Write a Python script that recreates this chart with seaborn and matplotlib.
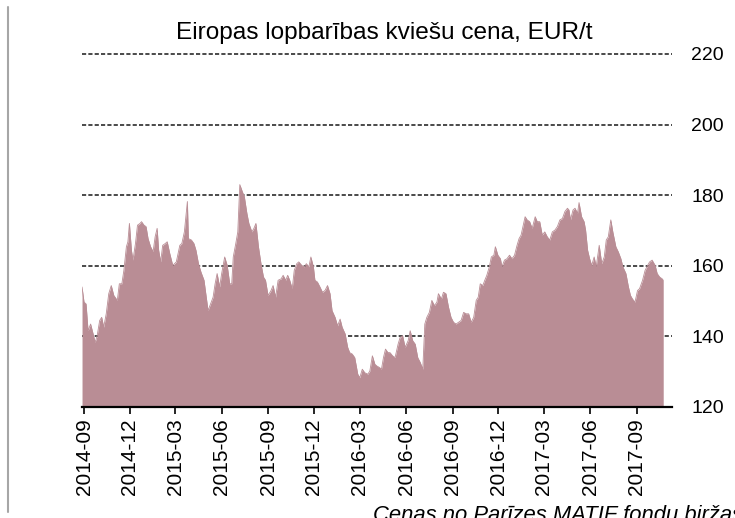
import matplotlib
matplotlib.use('Agg')
import matplotlib.pyplot as plt
import matplotlib.dates as mdates
from matplotlib.lines import Line2D
import seaborn as sns
import pandas as pd

# price series (EUR/t)
dates = [
    '2014-08-28', '2014-09-01', '2014-09-05', '2014-09-09', '2014-09-14', '2014-09-19', '2014-09-23', '2014-09-27',
    '2014-10-02', '2014-10-06', '2014-10-10', '2014-10-15', '2014-10-20', '2014-10-25', '2014-10-30', '2014-11-06',
    '2014-11-10', '2014-11-15', '2014-11-19', '2014-11-24', '2014-11-27', '2014-11-30', '2014-12-04', '2014-12-07',
    '2014-12-12', '2014-12-16', '2014-12-21', '2014-12-24', '2014-12-29', '2015-01-02', '2015-01-06', '2015-01-11',
    '2015-01-16', '2015-01-20', '2015-01-24', '2015-01-27', '2015-01-31', '2015-02-04', '2015-02-09', '2015-02-13',
    '2015-02-18', '2015-02-24', '2015-03-03', '2015-03-10', '2015-03-14', '2015-03-19', '2015-03-25', '2015-03-27',
    '2015-04-02', '2015-04-07', '2015-04-11', '2015-04-16', '2015-04-21', '2015-04-27', '2015-05-01', '2015-05-05',
    '2015-05-10', '2015-05-15', '2015-05-19', '2015-05-23', '2015-05-28', '2015-06-01', '2015-06-07', '2015-06-12',
    '2015-06-17', '2015-06-21', '2015-06-24', '2015-06-29', '2015-07-03', '2015-07-07', '2015-07-12', '2015-07-16',
    '2015-07-21', '2015-07-25', '2015-07-31', '2015-08-04', '2015-08-08', '2015-08-13', '2015-08-18', '2015-08-23',
    '2015-08-27', '2015-09-01', '2015-09-07', '2015-09-11', '2015-09-16', '2015-09-21', '2015-09-27', '2015-10-01',
    '2015-10-06', '2015-10-10', '2015-10-14', '2015-10-19', '2015-10-23', '2015-10-28', '2015-11-01', '2015-11-07',
    '2015-11-12', '2015-11-16', '2015-11-21', '2015-11-25', '2015-11-30', '2015-12-03', '2015-12-08', '2015-12-13',
    '2015-12-18', '2015-12-23', '2015-12-28', '2016-01-02', '2016-01-06', '2016-01-12', '2016-01-17', '2016-01-22',
    '2016-01-26', '2016-02-01', '2016-02-06', '2016-02-10', '2016-02-15', '2016-02-20', '2016-02-26', '2016-03-01',
    '2016-03-06', '2016-03-11', '2016-03-17', '2016-03-21', '2016-03-26', '2016-03-31', '2016-04-04', '2016-04-09',
    '2016-04-13', '2016-04-17', '2016-04-21', '2016-04-26', '2016-04-30', '2016-05-05', '2016-05-10', '2016-05-16',
    '2016-05-20', '2016-05-25', '2016-05-30', '2016-06-05', '2016-06-09', '2016-06-14', '2016-06-19', '2016-06-24',
    '2016-06-29', '2016-07-04', '2016-07-08', '2016-07-12', '2016-07-17', '2016-07-22', '2016-07-27', '2016-08-01',
    '2016-08-04', '2016-08-10', '2016-08-14', '2016-08-19', '2016-08-24', '2016-08-29', '2016-09-03', '2016-09-08',
    '2016-09-13', '2016-09-18', '2016-09-23', '2016-09-28', '2016-10-03', '2016-10-08', '2016-10-13', '2016-10-18',
    '2016-10-22', '2016-10-26', '2016-10-31', '2016-11-04', '2016-11-08', '2016-11-13', '2016-11-17', '2016-11-22',
    '2016-11-25', '2016-11-30', '2016-12-05', '2016-12-08', '2016-12-13', '2016-12-18', '2016-12-23', '2016-12-28',
    '2017-01-02', '2017-01-07', '2017-01-11', '2017-01-15', '2017-01-18', '2017-01-23', '2017-01-27', '2017-02-01',
    '2017-02-06', '2017-02-12', '2017-02-16', '2017-02-21', '2017-02-26', '2017-03-03', '2017-03-08', '2017-03-13',
    '2017-03-18', '2017-03-23', '2017-03-28', '2017-04-02', '2017-04-07', '2017-04-12', '2017-04-17', '2017-04-20',
    '2017-04-23', '2017-04-28', '2017-05-02', '2017-05-07', '2017-05-10', '2017-05-15', '2017-05-20', '2017-05-23',
    '2017-05-27', '2017-05-31', '2017-06-04', '2017-06-09', '2017-06-13', '2017-06-19', '2017-06-24', '2017-06-29',
    '2017-07-03', '2017-07-07', '2017-07-12', '2017-07-16', '2017-07-22', '2017-07-27', '2017-08-01', '2017-08-05',
    '2017-08-11', '2017-08-16', '2017-08-20', '2017-08-24', '2017-08-29', '2017-09-03', '2017-09-07', '2017-09-13',
    '2017-09-18', '2017-09-23', '2017-09-27', '2017-10-02', '2017-10-08', '2017-10-12', '2017-10-17', '2017-10-22',
    '2017-10-24',
]
prices = [
    154.0, 149.7, 149.2, 141.6, 143.5, 140.7, 138.3, 140.2,
    144.5, 145.4, 142.6, 146.4, 152.1, 154.4, 151.6, 150.2,
    154.9, 154.9, 158.7, 165.4, 166.8, 172.0, 164.4, 161.6,
    166.3, 171.5, 172.0, 172.5, 171.5, 171.1, 167.7, 165.4,
    164.0, 168.2, 170.6, 164.4, 161.1, 165.8, 166.3, 166.8,
    163.5, 160.1, 161.1, 165.8, 166.3, 169.6, 178.2, 167.7,
    167.3, 166.3, 164.4, 160.6, 158.2, 155.9, 151.6, 147.3,
    149.2, 151.1, 154.9, 157.8, 154.0, 157.8, 162.5, 160.1,
    154.9, 154.9, 162.5, 166.3, 169.6, 183.0, 181.0, 179.6,
    174.9, 172.0, 169.6, 170.6, 172.0, 165.4, 160.6, 156.8,
    155.9, 151.6, 153.0, 154.4, 151.1, 155.9, 156.3, 157.3,
    155.9, 157.3, 155.9, 153.5, 158.7, 160.6, 161.1, 160.1,
    159.7, 160.6, 159.7, 162.5, 159.7, 155.9, 155.4, 154.0,
    152.5, 153.0, 154.4, 152.1, 147.3, 145.4, 143.0, 144.9,
    142.6, 140.7, 136.9, 135.4, 135.0, 134.0, 129.3, 128.3,
    130.7, 129.7, 129.3, 130.2, 134.5, 132.1, 131.6, 131.2,
    130.7, 134.0, 136.4, 135.4, 135.4, 134.5, 134.0, 137.8,
    139.7, 140.2, 136.9, 138.8, 141.6, 138.8, 137.8, 134.0,
    132.6, 130.7, 143.5, 145.4, 146.8, 150.2, 148.7, 149.7,
    152.1, 150.6, 152.5, 152.1, 148.3, 145.4, 144.0, 143.5,
    144.0, 144.5, 146.8, 146.4, 146.4, 144.0, 145.4, 150.2,
    151.1, 154.9, 154.4, 155.9, 157.3, 159.7, 162.5, 163.0,
    165.4, 163.0, 162.0, 159.7, 161.6, 162.0, 163.0, 162.0,
    163.0, 165.8, 167.7, 168.7, 170.6, 173.9, 173.0, 172.5,
    170.6, 173.9, 172.5, 172.5, 168.7, 169.6, 168.2, 167.3,
    169.6, 170.1, 171.1, 173.0, 173.4, 175.4, 176.3, 175.8,
    173.0, 175.8, 176.3, 174.9, 177.9, 173.9, 172.5, 170.1,
    164.4, 162.0, 160.1, 162.5, 159.7, 165.8, 160.6, 162.5,
    167.3, 168.2, 173.0, 169.6, 165.4, 163.9, 162.0, 159.7,
    157.8, 154.0, 151.6, 150.6, 149.7, 153.0, 153.5, 155.9,
    158.7, 160.1, 161.1, 161.6, 160.1, 157.8, 156.8, 156.3,
    155.9,
]

title = 'Eiropas lopbarības kviešu cena, EUR/t'
source = 'Cenas no Parīzes MATIF fondu biržas'
y_ticks = [120, 140, 160, 180, 200, 220]
tick_months = pd.date_range('2014-09-01', '2017-09-01', freq='3MS')

df = pd.DataFrame({'date': pd.to_datetime(dates), 'price': prices})

sns.set_theme(style='white')
plt.rcParams['font.family'] = ['Liberation Sans', 'DejaVu Sans']
plt.rcParams['text.color'] = 'black'

fig = plt.figure(figsize=(7.35, 5.18), dpi=100)
ax = fig.add_axes([0.1116, 0.2143, 0.8024, 0.6815])

fill_color = '#b98d95'
ax.fill_between(df['date'], df['price'], 120, color=fill_color, lw=0, zorder=2)
sns.lineplot(data=df, x='date', y='price', ax=ax, color=fill_color, lw=0.6, zorder=2)

# dashed gridlines behind the area
for y in y_ticks[1:]:
    ax.axhline(y, color='#2b2b2b', lw=1.2, ls=(0, (2.5, 1.3)), zorder=1, clip_on=False)

ax.set_ylim(120, 220)
ax.set_xlim(df['date'].min(), pd.Timestamp('2017-11-10'))
ax.set_yticks(y_ticks)
ax.yaxis.tick_right()
ax.tick_params(axis='y', length=0, pad=14, labelsize=14, colors='black')
ax.set_xticks(tick_months)
ax.xaxis.set_major_formatter(mdates.DateFormatter('%Y-%m'))
ax.tick_params(axis='x', bottom=True, length=5, width=1.2, direction='out',
               labelsize=15, labelrotation=90, colors='black', pad=3)
ax.set_xlabel('')
ax.set_ylabel('')

for side in ['left', 'right', 'top']:
    ax.spines[side].set_visible(False)
ax.spines['bottom'].set_color('black')
ax.spines['bottom'].set_linewidth(1.6)

fig.text(0.5224, 1 - 33.5 / 518, title, ha='center', va='center', fontsize=17.6, color='black')
fig.text(373 / 735, 1 - 521 / 518, source, ha='left', va='baseline', fontsize=15.8,
         style='italic', color='black')

# thin grey border line on the left
fig.add_artist(Line2D([8 / 735, 8 / 735], [1 - 7 / 518, 1 - 512 / 518],
                      transform=fig.transFigure, color='#a6a6a6', lw=1.5))

fig.savefig('out.png', dpi=100)
